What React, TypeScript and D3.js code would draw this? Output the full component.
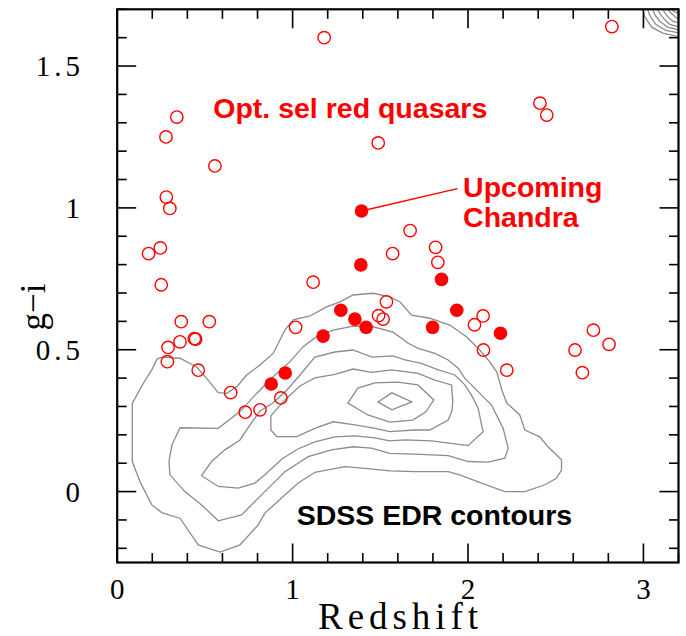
import React from "react";
import * as d3 from "d3";

// optically selected red quasars (open circles): redshift, g-i
const redZ = [1.18, 0.34, 0.278, 0.557, 0.28, 0.3, 1.488, 2.82, 2.41, 2.449, 1.67, 1.815, 0.179, 0.246, 0.251, 1.57, 1.117, 0.365, 0.525, 0.358, 0.44, 0.447, 0.29, 0.286, 0.462, 0.647, 0.73, 0.814, 0.933, 1.017, 1.535, 1.49, 1.516, 1.828, 2.086, 2.037, 2.088, 2.221, 2.715, 2.804, 2.61, 2.652];
const redGI = [1.6, 1.32, 1.25, 1.148, 1.038, 0.998, 1.229, 1.639, 1.369, 1.327, 0.92, 0.861, 0.839, 0.859, 0.729, 0.839, 0.738, 0.599, 0.599, 0.528, 0.539, 0.537, 0.508, 0.458, 0.428, 0.349, 0.28, 0.288, 0.33, 0.579, 0.669, 0.62, 0.608, 0.808, 0.619, 0.588, 0.499, 0.428, 0.569, 0.519, 0.499, 0.419];

// upcoming Chandra targets (filled)
const chandraZ = [1.393, 1.389, 1.275, 1.355, 1.419, 1.174, 0.958, 0.878, 1.849, 1.936, 1.798, 2.185];
const chandraGI = [0.989, 0.799, 0.639, 0.608, 0.579, 0.548, 0.418, 0.379, 0.748, 0.639, 0.579, 0.558];

// leader line from the labelled point to the text
const leaderZ = [1.393, 1.94];
const leaderGI = [0.989, 1.068];

// SDSS EDR contours, outer to inner, [z, g-i]
const contour1: [number, number][] = [
  [0.086, 0.311], [0.149, 0.382], [0.197, 0.429], [0.227, 0.467], [0.255, 0.474], [0.358, 0.47], [0.453, 0.439],
  [0.51, 0.399], [0.576, 0.349], [0.624, 0.346], [0.681, 0.369], [0.738, 0.411], [0.814, 0.446], [0.889, 0.487],
  [0.956, 0.569], [1.003, 0.605], [1.099, 0.619], [1.194, 0.651], [1.27, 0.669], [1.345, 0.693], [1.459, 0.699],
  [1.554, 0.686], [1.611, 0.669], [1.678, 0.622], [1.782, 0.611], [1.896, 0.587], [1.991, 0.546], [2.067, 0.499],
  [2.124, 0.457], [2.164, 0.421], [2.193, 0.358], [2.221, 0.312], [2.295, 0.27], [2.324, 0.217], [2.409, 0.193],
  [2.456, 0.158], [2.533, 0.112], [2.533, 0.076], [2.504, 0.047], [2.438, 0.024], [2.324, 0.0], [2.21, 0.0],
  [2.077, 0.03], [1.953, 0.059], [1.887, 0.07], [1.697, 0.07], [1.554, 0.073], [1.412, 0.082], [1.298, 0.088],
  [1.127, 0.068], [1.032, 0.03], [0.937, -0.023], [0.842, -0.076], [0.804, -0.117], [0.7, -0.188], [0.586, -0.213],
  [0.462, -0.188], [0.358, -0.094], [0.254, -0.074], [0.197, -0.047], [0.13, 0.035], [0.086, 0.106], [0.086, 0.27],
];
const contour2: [number, number][] = [
  [0.358, 0.225], [0.576, 0.223], [0.7, 0.282], [0.795, 0.346], [0.889, 0.405], [0.985, 0.458], [1.06, 0.511],
  [1.137, 0.546], [1.231, 0.569], [1.345, 0.583], [1.459, 0.581], [1.573, 0.562], [1.659, 0.523], [1.716, 0.505],
  [1.811, 0.487], [1.887, 0.464], [1.944, 0.435], [1.982, 0.399], [2.02, 0.376], [2.077, 0.34], [2.134, 0.305],
  [2.172, 0.258], [2.2, 0.223], [2.229, 0.153], [2.21, 0.118], [2.115, 0.104], [2.001, 0.106], [1.887, 0.127],
  [1.697, 0.132], [1.554, 0.135], [1.45, 0.153], [1.345, 0.158], [1.222, 0.147], [1.089, 0.123], [0.956, 0.07],
  [0.899, 0.035], [0.804, -0.023], [0.709, -0.082], [0.576, -0.103], [0.481, -0.047], [0.386, 0.0], [0.301, 0.059],
  [0.295, 0.106], [0.312, 0.164],
];
const contour3: [number, number][] = [
  [0.481, 0.056], [0.538, 0.106], [0.614, 0.147], [0.7, 0.182], [0.757, 0.235], [0.814, 0.284], [0.888, 0.312],
  [0.968, 0.358], [1.042, 0.411], [1.127, 0.474], [1.241, 0.492], [1.344, 0.499], [1.452, 0.474], [1.572, 0.478],
  [1.64, 0.464], [1.735, 0.452], [1.83, 0.429], [1.925, 0.411], [1.982, 0.376], [2.02, 0.34], [2.058, 0.294],
  [2.077, 0.235], [2.086, 0.211], [2.001, 0.162], [1.792, 0.179], [1.64, 0.182], [1.554, 0.179], [1.469, 0.189],
  [1.355, 0.196], [1.241, 0.193], [1.127, 0.175], [1.03, 0.15], [0.939, 0.115], [0.842, 0.059], [0.785, 0.03],
  [0.69, 0.012], [0.576, 0.018],
];
const contour4: [number, number][] = [
  [0.876, 0.267], [0.876, 0.217], [0.909, 0.194], [1.023, 0.194], [1.127, 0.223], [1.231, 0.246], [1.355, 0.235],
  [1.469, 0.223], [1.554, 0.211], [1.697, 0.217], [1.782, 0.217], [1.887, 0.252], [1.908, 0.284], [1.913, 0.319],
  [1.906, 0.376], [1.811, 0.393], [1.716, 0.417], [1.64, 0.423], [1.564, 0.429], [1.45, 0.42], [1.345, 0.432],
  [1.241, 0.413], [1.127, 0.401], [1.042, 0.372], [0.956, 0.323],
];
const contour5: [number, number][] = [
  [1.315, 0.312], [1.372, 0.365], [1.469, 0.383], [1.6, 0.386], [1.714, 0.376], [1.805, 0.323], [1.76, 0.281],
  [1.685, 0.252], [1.554, 0.245], [1.429, 0.27],
];
const contour6: [number, number][] = [
  [1.486, 0.316], [1.566, 0.348], [1.68, 0.316], [1.566, 0.288],
];
// edge of the dense locus cut by the top-right corner
const cornerContours: [number, number][][] = [
  [[2.996, 1.7], [3.007, 1.675], [3.047, 1.637], [3.11, 1.616], [3.21, 1.602]],
  [[3.024, 1.7], [3.036, 1.679], [3.07, 1.647], [3.127, 1.626], [3.21, 1.616]],
  [[3.053, 1.7], [3.064, 1.682], [3.093, 1.658], [3.138, 1.637], [3.21, 1.626]],
  [[3.081, 1.7], [3.093, 1.686], [3.115, 1.668], [3.15, 1.647], [3.21, 1.637]],
  [[3.11, 1.7], [3.121, 1.689], [3.138, 1.675], [3.167, 1.658], [3.21, 1.651]],
  [[3.138, 1.7], [3.15, 1.691], [3.167, 1.682], [3.184, 1.672], [3.21, 1.665]],
  [[3.161, 1.7], [3.172, 1.693], [3.21, 1.682]],
];

const xMajor = [0, 1, 2, 3];
const xMinor = [0.2, 0.4, 0.6, 0.8, 1.2, 1.4, 1.6, 1.8, 2.2, 2.4, 2.6, 2.8, 3.2];
const yMajor = [0, 0.5, 1, 1.5];
const yMinor = [-0.2, -0.1, 0.1, 0.2, 0.3, 0.4, 0.6, 0.7, 0.8, 0.9, 1.1, 1.2, 1.3, 1.4, 1.6, 1.7];
const xTickLabels = ["0", "1", "2", "3"];
const yTickLabels = ["0", "0.5", "1", "1.5"];

const W = 686;
const H = 636;
const RED = "#ff0000";
const SERIF = "'Liberation Serif', 'Times New Roman', serif";
const SANS = "'Liberation Sans', Arial, Helvetica, sans-serif";

export default function App() {
  const x = d3.scaleLinear().domain([0, 3.2]).range([117.2, 678.5]);
  const y = d3.scaleLinear().domain([-0.25, 1.7]).range([562.5, 9.3]);
  const [x0, x1] = x.range();
  const [y0, y1] = y.range();

  const closed = d3.line<[number, number]>().x((d) => x(d[0])).y((d) => y(d[1])).curve(d3.curveLinearClosed);
  const open = d3.line<[number, number]>().x((d) => x(d[0])).y((d) => y(d[1]));
  const contours = [contour1, contour2, contour3, contour4, contour5, contour6];

  const majLen = 19;
  const minLen = 9.5;

  return (
    <svg width={W} height={H} style={{ position: "absolute", left: 0, top: 0, background: "#fff" }}>
      <defs>
        <clipPath id="plot">
          <rect x={x0} y={y1} width={x1 - x0} height={y0 - y1} />
        </clipPath>
      </defs>

      <g clipPath="url(#plot)" fill="none" stroke="#8c8c8c" strokeWidth={1.3}>
        {contours.map((c, i) => (
          <path key={i} d={closed(c) ?? ""} />
        ))}
        {cornerContours.map((c, i) => (
          <path key={"c" + i} d={open(c) ?? ""} />
        ))}
      </g>

      <path
        d={open(leaderZ.map((z, i) => [z, leaderGI[i]] as [number, number])) ?? ""}
        stroke={RED}
        strokeWidth={1.3}
        fill="none"
      />

      {redZ.map((z, i) => (
        <circle key={"r" + i} cx={x(z)} cy={y(redGI[i])} r={6.2} fill="none" stroke={RED} strokeWidth={1.4} />
      ))}
      {chandraZ.map((z, i) => (
        <circle key={"f" + i} cx={x(z)} cy={y(chandraGI[i])} r={6.8} fill={RED} />
      ))}

      {/* ticks */}
      <g stroke="#000" strokeWidth={1.6}>
        {xMajor.map((v) => (
          <g key={"xm" + v}>
            <line x1={x(v)} x2={x(v)} y1={y0} y2={y0 - majLen} />
            <line x1={x(v)} x2={x(v)} y1={y1} y2={y1 + majLen} />
          </g>
        ))}
        {xMinor.map((v) => (
          <g key={"xn" + v}>
            <line x1={x(v)} x2={x(v)} y1={y0} y2={y0 - minLen} />
            <line x1={x(v)} x2={x(v)} y1={y1} y2={y1 + minLen} />
          </g>
        ))}
        {yMajor.map((v) => (
          <g key={"ym" + v}>
            <line x1={x0} x2={x0 + majLen} y1={y(v)} y2={y(v)} />
            <line x1={x1} x2={x1 - majLen} y1={y(v)} y2={y(v)} />
          </g>
        ))}
        {yMinor.map((v) => (
          <g key={"yn" + v}>
            <line x1={x0} x2={x0 + minLen} y1={y(v)} y2={y(v)} />
            <line x1={x1} x2={x1 - minLen} y1={y(v)} y2={y(v)} />
          </g>
        ))}
      </g>
      <rect x={x0} y={y1} width={x1 - x0} height={y0 - y1} fill="none" stroke="#000" strokeWidth={2.2} />

      {/* tick labels */}
      <g fontFamily={SERIF} fontSize={29} fill="#000">
        {xMajor.map((v, i) => (
          <text key={"xl" + v} x={x(v)} y={599} textAnchor="middle">
            {xTickLabels[i]}
          </text>
        ))}
        {yMajor.map((v, i) => (
          <text key={"yl" + v} x={84} y={y(v) + 10} textAnchor="end" letterSpacing={4}>
            {yTickLabels[i]}
          </text>
        ))}
      </g>
      <text x={398} y={629} textAnchor="middle" fontFamily={SERIF} fontSize={37} textLength={160} lengthAdjust="spacing">
        Redshift
      </text>
      <text
        transform="translate(45,307) rotate(-90)"
        textAnchor="middle"
        fontFamily={SERIF}
        fontSize={35}
      >
        g−i
      </text>

      {/* annotations */}
      <g fontFamily={SANS} fontWeight="bold" fontSize={28.5}>
        <text x={x(0.5476)} y={y(1.316)} fill={RED}>
          Opt. sel red quasars
        </text>
        <text x={x(1.972)} y={y(1.038)} fill={RED}>
          Upcoming
        </text>
        <text x={x(1.972)} y={y(0.932)} fill={RED}>
          Chandra
        </text>
        <text x={x(1.023)} y={y(-0.118)} fill="#000">
          SDSS EDR contours
        </text>
      </g>
    </svg>
  );
}
